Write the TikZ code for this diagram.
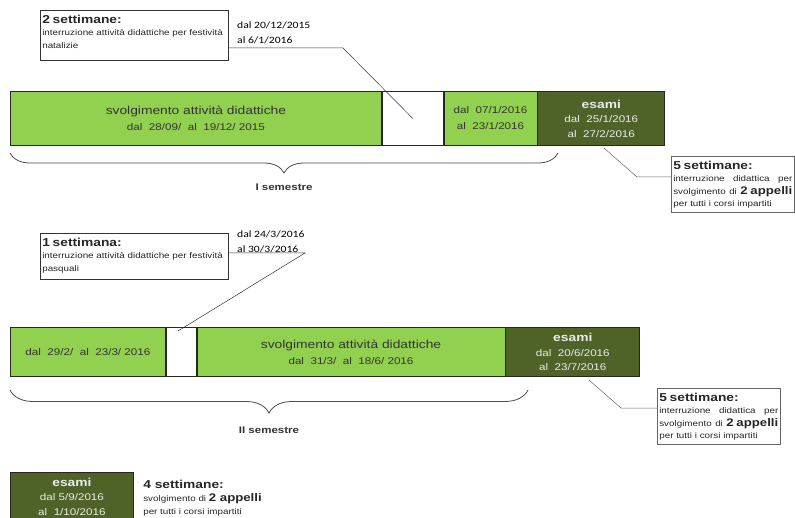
\documentclass[tikz,border=0pt]{standalone}
\usepackage{fontspec}
\setmainfont{Liberation Sans}[FakeStretch=1.2]
\newfontfamily\calibri{Carlito}[FakeStretch=1.2]
\usetikzlibrary{decorations.pathreplacing}
\definecolor{verdechiaro}{RGB}{146,208,80}
\definecolor{verdescuro}{RGB}{79,98,40}
\tikzset{
  periodo/.style={draw=black!85, line width=0.8pt, fill=verdechiaro, anchor=north west,
    inner sep=0pt, align=center, text=black!80, font=\fontsize{9.7}{16}\selectfont},
  esami/.style={periodo, fill=verdescuro, text=white!92!black, font=\fontsize{9.7}{14.5}\selectfont},
  pausa/.style={periodo, fill=white},
  nota/.style={draw=black!80, line width=0.6pt, anchor=north west, inner xsep=2pt, inner ysep=4.5pt,
    align=left, font=\fontsize{8.2}{12.5}\selectfont, text=black!85},
  date/.style={anchor=north west, inner sep=0pt, align=left, font=\calibri\fontsize{9.7}{15}\selectfont},
  graffa/.style={decorate, decoration={brace, amplitude=#1}, draw=black!70, line width=0.8pt},
  semestre/.style={font=\fontsize{9.6}{11}\selectfont\bfseries, text=black!80},
  linea/.style={draw=black!80, line width=0.5pt}
}
\newcommand{\titolo}[1]{{\fontsize{11.5}{13.5}\selectfont\bfseries #1}}
\newcommand{\grande}[1]{{\fontsize{11}{12.5}\selectfont\bfseries #1}}
\begin{document}
\begin{tikzpicture}[x=1pt, y=-1pt]
    \useasboundingbox[fill=white] (0,0) rectangle (795,518);

    % I semestre
    \node[periodo, minimum width=371, minimum height=54] (svolg1) at (10,91)
      {{\fontsize{11.5}{16}\selectfont svolgimento attività didattiche}\\dal\ \ 28/09/\ \ al\ \ 19/12/ 2015};
    \node[pausa, minimum width=61, minimum height=54] (pausa1) at (svolg1.north east) {};
    \node[periodo, minimum width=93, minimum height=54] (svolg2) at (pausa1.north east)
      {dal\ \ 07/1/2016\\al\ \ 23/1/2016};
    \node[esami, minimum width=127, minimum height=54] (esami1) at (svolg2.north east)
      {{\fontsize{11.5}{14}\selectfont\bfseries esami}\\dal\ \ 25/1/2016\\al\ \ 27/2/2016};
    \draw[graffa=20pt] (558,153) -- (10,153) node[midway, below=27pt, semestre] (sem1) {I semestre};

    % Note I semestre
    \node[nota, text width=184, text depth=33pt] (nota1) at (40,10)
      {\titolo{2 settimane:}\\interruzione attività didattiche per festività\\natalizie};
    \node[date] (date1) at (237,22) {dal 20/12/2015\\al 6/1/2016};
    \coordinate (piega1) at (343,48);
    \draw[linea] (nota1.east |- piega1) -- (piega1) -- (pausa1.center);

    \node[nota, text width=119, text depth=39pt, draw=black!60] (nota2) at (671,156)
      {\titolo{5 settimane:}\\interruzione\hfill didattica\hfill per\\svolgimento\hfill di\hfill \grande{2 appelli}\\per tutti i corsi impartiti};
    \coordinate (piega2) at (637,177);
    \draw[linea, draw=black!60] (604,148) -- (piega2) -- (nota2.west |- piega2);

    % II semestre
    \node[periodo, minimum width=155, minimum height=49] (svolg3) at (10,327)
      {dal\ \ 29/2/\ \ al\ \ 23/3/ 2016};
    \node[pausa, minimum width=30, minimum height=49] (pausa2) at (svolg3.north east) {};
    \node[periodo, minimum width=308, minimum height=49] (svolg4) at (pausa2.north east)
      {{\fontsize{11.5}{15}\selectfont svolgimento attività didattiche}\\dal\ \ 31/3/\ \ al\ \ 18/6/ 2016};
    \node[esami, minimum width=134, minimum height=49] (esami2) at (svolg4.north east)
      {{\fontsize{11.5}{14}\selectfont\bfseries esami}\\dal\ \ 20/6/2016\\al\ \ 23/7/2016};
    \draw[graffa=23pt] (528,390) -- (10,390) node[midway, below=33pt, semestre] (sem2) {II semestre};

    % Note II semestre
    \node[nota, text width=184, text depth=29pt] (nota3) at (40,233)
      {\titolo{1 settimana:}\\interruzione attività didattiche per festività\\pasquali};
    \node[date] (date2) at (237,231) {dal 24/3/2016\\al 30/3/2016};
    \coordinate (piega3) at (305,253);
    \coordinate (fine3) at (178,331);
    \draw[linea] (nota3.east |- piega3) -- (piega3) -- (fine3);

    \node[nota, text width=119, text depth=39pt, draw=black!60] (nota4) at (657,388)
      {\titolo{5 settimane:}\\interruzione\hfill didattica\hfill per\\svolgimento\hfill di\hfill \grande{2 appelli}\\per tutti i corsi impartiti};
    \coordinate (piega4) at (621,408);
    \draw[linea, draw=black!60] (589,380) -- (piega4) -- (nota4.west |- piega4);

    % Sessione autunnale
    \node[esami, minimum width=123, minimum height=48] (esami3) at (10,472)
      {{\fontsize{11.5}{14}\selectfont\bfseries esami}\\dal 5/9/2016\\al\ \ 1/10/2016};
    \node[nota, draw=none, anchor=west, font=\fontsize{8.2}{13}\selectfont] (nota5) at (141,498)
      {\titolo{4 settimane:}\\svolgimento di \grande{2 appelli}\\per tutti i corsi impartiti};
\end{tikzpicture}
\end{document}
